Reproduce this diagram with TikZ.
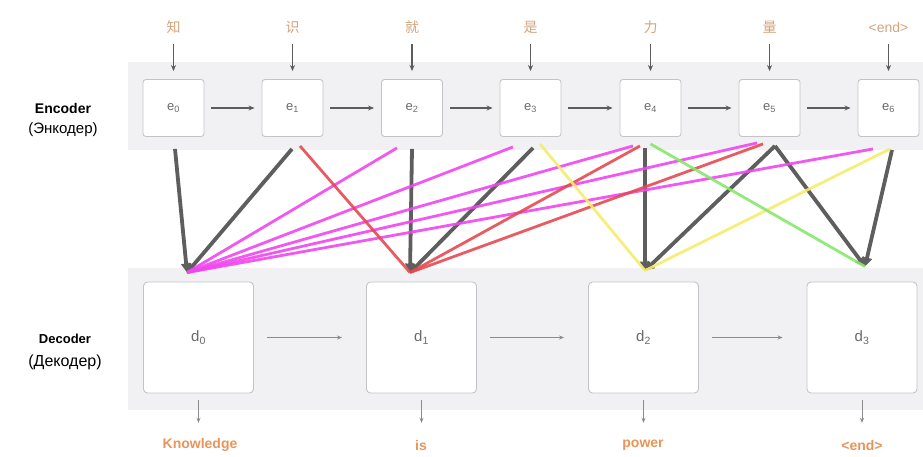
\documentclass[tikz,border=0pt]{standalone}
\usepackage{fontspec}
\setmainfont{Liberation Sans}
\newfontfamily\cjk{Noto Sans CJK SC}
\usetikzlibrary{arrows.meta,calc}

\definecolor{bandgray}{HTML}{F1F1F4}
\definecolor{boxline}{HTML}{C4C4C8}
\definecolor{boxtext}{HTML}{6A6A6A}
\definecolor{flowgray}{HTML}{5C5C5C}
\definecolor{lightflow}{HTML}{8A8A8A}
\definecolor{attgray}{HTML}{5E5E5E}
\definecolor{attmag}{HTML}{F046F0}
\definecolor{attred}{HTML}{E54A50}
\definecolor{attyel}{HTML}{F5EC6C}
\definecolor{attgrn}{HTML}{86E86B}
\definecolor{srctext}{HTML}{D2A47E}
\definecolor{outtext}{HTML}{E8945A}

\begin{document}
\begin{tikzpicture}[x=1pt,y=-1pt,
  encbox/.style={draw=boxline, fill=white, rounded corners=3pt, line width=0.9pt,
    minimum width=61pt, minimum height=57pt, inner sep=0pt,
    font=\fontsize{13}{15}\selectfont, text=boxtext},
  decbox/.style={draw=boxline, fill=white, rounded corners=4pt, line width=0.9pt,
    minimum width=110pt, minimum height=111pt, inner sep=0pt,
    font=\fontsize{15}{17}\selectfont, text=boxtext},
  srclbl/.style={inner sep=0pt, minimum height=18pt, text=srctext,
    font=\fontsize{14}{16}\selectfont},
  outlbl/.style={inner sep=0pt, minimum height=18pt, text=outtext,
    font=\bfseries\fontsize{14}{16}\selectfont},
  sidelbl/.style={inner sep=0pt, align=center, text=black},
  flow/.style={draw=flowgray, line width=1.3pt, -{Stealth[length=6pt,width=5pt]}},
  thinflow/.style={draw=lightflow, line width=1pt, -{Stealth[length=5pt,width=4pt]}},
  attn/.style={draw=attgray, line width=3.8pt, -{Triangle[length=9pt,width=10pt]}},
  weight/.style={line width=2.8pt, opacity=0.9}
]
\useasboundingbox (0,0) rectangle (923,457);

% background bands
\fill[bandgray] (128,62) rectangle (923,150);
\fill[bandgray] (128,268) rectangle (923,410);

% side captions
\node[sidelbl, font=\bfseries\fontsize{14}{16}\selectfont] (enccap) at (63,108) {Encoder};
\node[sidelbl, font=\fontsize{15}{17}\selectfont] (encru) at (63,130) {(Энкодер)};
\node[sidelbl, font=\bfseries\fontsize{13}{15}\selectfont] (deccap) at (65,339) {Decoder};
\node[sidelbl, font=\fontsize{16}{18}\selectfont] (decru) at (65,362) {(Декодер)};

% encoder states
\node[encbox] (e0) at (173.5,108) {e\textsubscript{0}};
\node[encbox] (e1) at (292.5,108) {e\textsubscript{1}};
\node[encbox] (e2) at (412,108)   {e\textsubscript{2}};
\node[encbox] (e3) at (530.5,108) {e\textsubscript{3}};
\node[encbox] (e4) at (650.5,108) {e\textsubscript{4}};
\node[encbox] (e5) at (769.5,108) {e\textsubscript{5}};
\node[encbox] (e6) at (888.5,108) {e\textsubscript{6}};

% source tokens
\node[srclbl] (w0) at (173.5,27) {\cjk 知};
\node[srclbl] (w1) at (292.5,27) {\cjk 识};
\node[srclbl] (w2) at (412,27)   {\cjk 就};
\node[srclbl] (w3) at (530.5,27) {\cjk 是};
\node[srclbl] (w4) at (650.5,27) {\cjk 力};
\node[srclbl] (w5) at (769.5,27) {\cjk 量};
\node[srclbl] (w6) at (888.5,27) {<end>};

\foreach \i in {0,...,6}
  \draw[flow, shorten <=8pt, shorten >=8pt] (w\i) -- (e\i);
\foreach \i/\j in {0/1,1/2,2/3,3/4,4/5,5/6}
  \draw[flow, shorten <=7pt, shorten >=7pt] (e\i) -- (e\j);

% decoder states
\node[decbox] (d0) at (198.5,337.5) {d\textsubscript{0}};
\node[decbox] (d1) at (421.5,337.5) {d\textsubscript{1}};
\node[decbox] (d2) at (643.5,337.5) {d\textsubscript{2}};
\node[decbox] (d3) at (862,337.5)   {d\textsubscript{3}};

\foreach \i/\j in {0/1,1/2,2/3}
  \draw[thinflow, shorten <=13pt, shorten >=24pt] (d\i) -- (d\j);

% output tokens
\node[outlbl] (o0) at (200,445) {Knowledge};
\node[outlbl] (o1) at (421,445) {is};
\node[outlbl] (o2) at (643,445) {power};
\node[outlbl] (o3) at (862,445) {<end>};

\draw[thinflow, shorten <=7pt, shorten >=13pt] (d0.south) -- (d0.south |- o0.north);
\draw[thinflow, shorten <=7pt, shorten >=13pt] (d1.south) -- (d1.south |- o1.north);
\draw[thinflow, shorten <=7pt, shorten >=13pt] (d2.south) -- (d2.south |- o2.north);
\draw[thinflow, shorten <=7pt, shorten >=13pt] (d3.south) -- (d3.south |- o3.north);

% attention targets above the decoder states
\coordinate (t0) at ($(d0.north)+(-11.5,-9)$);
\coordinate (t1) at ($(d1.north)+(-11.5,-9)$);
\coordinate (t2) at ($(d2.north)+(1.5,-11)$);
\coordinate (t3) at ($(d3.north)+(3,-15)$);

% strongest alignments (grey)
\draw[attn] ($(e0.south)+(1.5,12)$) -- (t0);
\draw[attn] ($(e1.south)+(-0.5,12)$) -- (t0);
\draw[attn] ($(e2.south)+(0,12)$) -- (t1);
\draw[attn] ($(e3.south)+(2.5,11)$) -- (t1);
\draw[attn] ($(e4.south)+(-5.5,11)$) -- (t2);
\draw[attn] ($(e5.south)+(5.5,9)$) -- (t2);
\draw[attn] ($(e5.south)+(5.5,9)$) -- (t3);
\draw[attn] ($(e6.south)+(3.5,13)$) -- (t3);

% weaker alignments (coloured)
\draw[weight, attmag] ($(e2.south)+(-15,11)$) -- (t0);
\draw[weight, attmag] ($(e3.south)+(-17.5,10)$) -- (t0);
\draw[weight, attmag] ($(e4.south)+(-17.5,9)$) -- (t0);
\draw[weight, attmag] ($(e5.south)+(-12.5,6)$) -- (t0);
\draw[weight, attmag] ($(e6.south)+(-15.5,12)$) -- (t0);

\draw[weight, attred] ($(e1.south)+(7.5,9)$) -- (t1);
\draw[weight, attred] ($(e4.south)+(-10.5,9)$) -- (t1);
\draw[weight, attred] ($(e5.south)+(-6.5,7)$) -- (t1);

\draw[weight, attyel] ($(e3.south)+(9.5,7)$) -- (t2);
\draw[weight, attyel] ($(e6.south)+(1.5,12)$) -- (t2);

\draw[weight, attgrn] ($(e4.south)+(0,7)$) -- (t3);
\end{tikzpicture}
\end{document}
